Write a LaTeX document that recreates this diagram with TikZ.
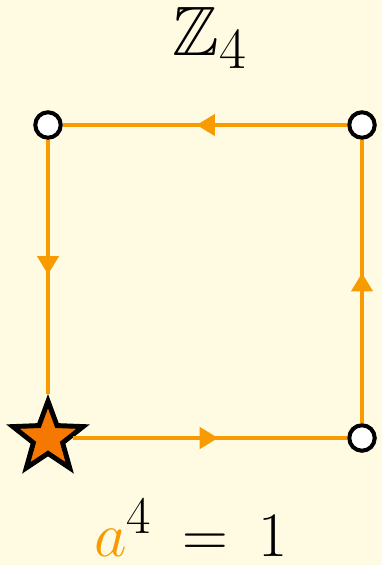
\documentclass[tikz,border=0pt]{standalone}
\usepackage{amsmath, amssymb}
\usetikzlibrary{arrows.meta,shapes.geometric,decorations.markings}

\definecolor{bgyellow}{RGB}{255,251,226}
\definecolor{edgeorange}{RGB}{247,155,0}
\definecolor{starorange}{RGB}{245,120,0}

\begin{document}
\begin{tikzpicture}[x=0.02cm, y=-0.02cm,
  vert/.style={circle, draw=black, fill=white, line width=2.3pt, minimum size=14.5pt, inner sep=0pt},
  idvert/.style={star, star points=5, star point ratio=2.4, draw=black, fill=starorange, line width=2.8pt, minimum size=42pt, inner sep=0pt},
  gen/.style={draw=edgeorange, line width=2.3pt, postaction={decorate},
    decoration={markings, mark=at position 0.53 with {\arrow[edgeorange]{Triangle[length=10.5pt, width=12pt]}}}},
  every node/.style={inner sep=0pt, font=\Huge}]

  % background and page size
  \fill[bgyellow] (0,0) rectangle (382,565);
  \useasboundingbox (0,0) rectangle (382,565);

  % title
  \node[anchor=base, scale=1.6] (title) at (210,55) {$\mathbb{Z}_4$};

  % group elements
  \node[idvert] (e)  at (48,438) {};
  \node[vert]   (a1) at (362,438) {};
  \node[vert]   (a2) at (362,125) {};
  \node[vert]   (a3) at (48,125) {};

  % generator a
  \draw[gen] (e) -- (a1);
  \draw[gen] (a1) -- (a2);
  \draw[gen] (a2) -- (a3);
  \draw[gen] (a3) -- (e);

  % relation
  \node[anchor=base, scale=1.45] (rel) at (191,556) {$\textcolor{edgeorange}{a}^{4}\hspace{0.2em}=\hspace{0.2em}1$};

\end{tikzpicture}
\end{document}
